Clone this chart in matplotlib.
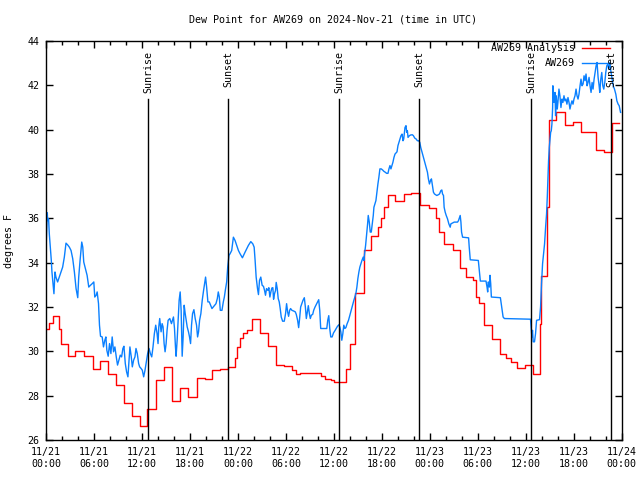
"""
Dew point chart for station AW269: observations vs. analysis, with sun events.
"""

import matplotlib
matplotlib.use("Agg")
import matplotlib.pyplot as plt
from matplotlib.ticker import MultipleLocator

TITLE = "Dew Point for AW269 on 2024-Nov-21 (time in UTC)"
OBS_LABEL = "AW269"
ANALYSIS_LABEL = "AW269 Analysis"
Y_LABEL = "degrees F"

# x axis is hours after 2024-11-21 00:00 UTC
TICK_HOURS = [0, 6, 12, 18, 24, 30, 36, 42, 48, 54, 60, 66, 72]
TICK_LABELS = [
    "11/21\n00:00", "11/21\n06:00", "11/21\n12:00", "11/21\n18:00",
    "11/22\n00:00", "11/22\n06:00", "11/22\n12:00", "11/22\n18:00",
    "11/23\n00:00", "11/23\n06:00", "11/23\n12:00", "11/23\n18:00",
    "11/24\n00:00",
]
Y_TICKS = [26, 28, 30, 32, 34, 36, 38, 40, 42, 44]

SUN_HOURS = [12.77, 22.78, 36.67, 46.68, 60.70, 70.71]
SUN_LABELS = ["Sunrise", "Sunset", "Sunrise", "Sunset", "Sunrise", "Sunset"]

# analysis (hourly-ish steps)
RED_HOURS = [
    0.0, 0.4, 0.8, 1.6, 1.9, 2.7, 3.65, 4.7, 5.8, 6.7,
    7.7, 8.75, 9.7, 10.7, 11.75, 12.6, 13.7, 14.75, 15.75, 16.75,
    17.75, 18.9, 19.85, 20.8, 21.75, 22.8, 23.6, 23.9, 24.2, 24.6,
    25.1, 25.7, 26.8, 27.8, 28.8, 29.7, 30.7, 31.2, 31.8, 34.4,
    34.85, 35.6, 36.0, 37.5, 38.0, 38.7, 39.75, 40.7, 41.5, 41.85,
    42.3, 42.8, 43.7, 44.8, 45.6, 46.75, 47.9, 48.8, 49.2, 49.8,
    50.85, 51.8, 52.5, 53.35, 53.8, 54.2, 54.85, 55.8, 56.85, 57.5,
    58.2, 58.9, 59.9, 60.9, 61.75, 61.95, 62.7, 62.87, 63.85, 64.9,
    65.9, 66.9, 68.85, 69.8, 70.85, 71.7,
]
RED_DEWPT = [
    31.0, 31.3, 31.6, 31.0, 30.35, 29.8, 30.0, 29.8, 29.2, 29.55,
    29.0, 28.5, 27.65, 27.1, 26.65, 27.4, 28.7, 29.3, 27.75, 28.35,
    27.95, 28.8, 28.75, 29.15, 29.2, 29.3, 29.7, 30.2, 30.6, 30.85,
    30.95, 31.45, 30.85, 30.25, 29.4, 29.35, 29.15, 28.97, 29.04, 28.9,
    28.77, 28.7, 28.62, 29.2, 30.35, 32.65, 34.55, 35.2, 35.6, 36.0,
    36.5, 37.05, 36.8, 37.1, 37.15, 36.6, 36.45, 36.0, 35.4, 34.85,
    34.55, 33.75, 33.35, 33.2, 32.45, 32.2, 31.2, 30.55, 29.9, 29.7,
    29.5, 29.27, 29.37, 29.0, 31.25, 33.4, 36.5, 40.45, 40.8, 40.2,
    40.35, 39.9, 39.1, 39.0, 40.3, 40.3,
]

# station observations
BLUE_HOURS = [
    0.0, 0.13, 0.17, 0.29, 0.38, 0.5, 0.63, 0.71, 0.88, 0.96,
    1.09, 1.21, 1.42, 1.63, 1.84, 2.05, 2.26, 2.47, 2.68, 2.89,
    3.1, 3.31, 3.52, 3.73, 3.94, 4.06, 4.23, 4.44, 4.57, 4.69,
    4.9, 5.11, 5.32, 5.53, 5.74, 5.95, 6.07, 6.24, 6.37, 6.54,
    6.66, 6.79, 7.0, 7.16, 7.33, 7.46, 7.58, 7.75, 7.92, 8.09,
    8.25, 8.42, 8.59, 8.76, 8.92, 9.09, 9.26, 9.43, 9.59, 9.72,
    9.89, 10.05, 10.22, 10.35, 10.47, 10.64, 10.77, 10.93, 11.1, 11.23,
    11.39, 11.56, 11.69, 11.86, 12.02, 12.19, 12.36, 12.53, 12.69, 12.86,
    13.03, 13.2, 13.36, 13.53, 13.7, 13.87, 13.99, 14.08, 14.2, 14.37,
    14.5, 14.62, 14.75, 14.87, 15.0, 15.12, 15.25, 15.46, 15.67, 15.79,
    15.92, 16.05, 16.17, 16.25, 16.38, 16.51, 16.63, 16.76, 16.88, 17.01,
    17.13, 17.26, 17.39, 17.51, 17.64, 17.8, 17.93, 18.06, 18.18, 18.31,
    18.48, 18.64, 18.81, 18.94, 19.06, 19.19, 19.35, 19.52, 19.69, 19.82,
    19.94, 20.07, 20.23, 20.4, 20.57, 20.74, 20.9, 21.07, 21.24, 21.41,
    21.53, 21.66, 21.78, 21.99, 22.16, 22.29, 22.41, 22.58, 22.71, 22.87,
    23.0, 23.21, 23.42, 23.63, 23.84, 24.05, 24.26, 24.55, 24.89, 25.3,
    25.6, 25.85, 26.02, 26.14, 26.27, 26.44, 26.56, 26.69, 26.85, 27.02,
    27.19, 27.32, 27.44, 27.57, 27.73, 27.86, 27.99, 28.11, 28.24, 28.36,
    28.45, 28.57, 28.7, 28.78, 28.91, 29.03, 29.16, 29.28, 29.41, 29.58,
    29.79, 29.95, 30.08, 30.21, 30.33, 30.46, 30.58, 30.75, 30.96, 31.17,
    31.29, 31.46, 31.59, 31.71, 31.84, 32.01, 32.13, 32.3, 32.43, 32.55,
    32.68, 32.8, 32.93, 33.05, 33.18, 33.35, 33.47, 33.64, 33.81, 33.98,
    34.1, 34.23, 34.35, 35.11, 35.23, 35.36, 35.48, 35.61, 35.78, 35.95,
    36.11, 36.28, 36.45, 36.62, 36.74, 36.87, 36.99, 37.12, 37.24, 37.37,
    37.5, 37.66, 37.83, 38.0, 38.17, 38.33, 38.5, 38.63, 38.75, 38.88,
    39.0, 39.13, 39.25, 39.38, 39.51, 39.67, 39.76, 39.84, 39.97, 40.09,
    40.22, 40.3, 40.43, 40.55, 40.68, 40.8, 40.93, 41.01, 41.26, 41.38,
    41.51, 41.63, 41.76, 41.93, 42.1, 42.26, 42.43, 42.6, 42.77, 42.89,
    43.02, 43.14, 43.27, 43.39, 43.52, 43.65, 43.77, 43.9, 44.02, 44.15,
    44.27, 44.4, 44.53, 44.65, 44.74, 44.82, 44.9, 45.03, 45.11, 45.2,
    45.28, 45.45, 45.61, 45.82, 45.95, 46.12, 46.29, 46.45, 46.62, 46.75,
    46.87, 47.04, 47.21, 47.37, 47.54, 47.71, 47.83, 47.96, 48.09, 48.21,
    48.34, 48.46, 48.59, 48.76, 48.88, 49.05, 49.22, 49.39, 49.51, 49.6,
    49.72, 49.8, 49.93, 50.06, 50.22, 50.39, 50.56, 50.64, 51.06, 51.48,
    51.6, 51.73, 51.81, 51.9, 51.98, 52.11, 52.86, 52.94, 53.07, 54.08,
    54.2, 54.33, 55.04, 55.17, 55.25, 55.33, 55.46, 55.54, 55.63, 55.71,
    56.84, 57.01, 57.18, 57.34, 60.61, 60.69, 60.78, 60.86, 60.95, 61.11,
    61.24, 61.37, 61.74, 61.87, 61.99, 62.12, 62.25, 62.37, 62.5, 62.62,
    62.71, 62.79, 62.87, 62.96, 63.04, 63.13, 63.21, 63.29, 63.38, 63.41,
    63.54, 63.67, 63.75, 63.83, 63.96, 64.04, 64.17, 64.29, 64.42, 64.55,
    64.67, 64.8, 64.92, 65.05, 65.17, 65.3, 65.43, 65.55, 65.68, 65.8,
    65.93, 66.05, 66.18, 66.31, 66.43, 66.56, 66.68, 66.81, 66.93, 67.06,
    67.19, 67.31, 67.44, 67.56, 67.69, 67.81, 67.94, 68.06, 68.19, 68.32,
    68.44, 68.57, 68.69, 68.82, 68.94, 69.07, 69.2, 69.28, 69.41, 69.53,
    69.66, 69.78, 69.91, 70.03, 70.16, 70.29, 70.41, 70.54, 70.66, 70.79,
    70.96, 71.12, 71.29, 71.42, 71.58, 71.71, 71.88,
]
BLUE_DEWPT = [
    34.9, 36.25, 35.9, 35.98, 35.3, 34.7, 34.1, 33.58, 32.9, 32.6,
    33.58, 33.35, 33.13, 33.35, 33.58, 33.8, 34.25, 34.88, 34.8, 34.7,
    34.55, 34.18, 33.58, 32.83, 32.42, 33.35, 34.1, 34.93, 34.7, 34.03,
    33.73, 33.43, 32.9, 32.98, 33.05, 33.13, 32.45, 32.53, 32.68, 32.15,
    31.18, 30.68, 30.65, 30.2, 30.5, 30.65, 30.05, 29.78, 30.35, 29.9,
    30.65, 29.98, 30.2, 29.75, 29.38, 29.6, 29.83, 29.75, 30.13, 30.23,
    29.45, 29.08, 28.85, 29.53, 30.2, 29.75, 29.3, 29.6, 29.75, 30.13,
    29.9, 29.45, 29.3, 29.23, 29.15, 28.85, 29.15, 29.53, 29.9, 30.13,
    29.9, 29.75, 30.2, 30.8, 31.18, 30.8, 30.35, 31.1, 31.48, 30.88,
    31.25, 31.1, 30.35, 29.98, 30.35, 30.95, 31.4, 31.48, 31.25, 31.4,
    31.55, 31.03, 30.2, 29.78, 30.5, 31.4, 32.3, 32.68, 31.85, 29.78,
    30.65, 32.08, 31.7, 31.4, 31.1, 30.88, 30.65, 30.35, 31.18, 31.7,
    31.88, 31.48, 31.18, 30.65, 30.88, 31.4, 31.7, 32.3, 32.75, 33.05,
    33.35, 32.9, 32.23, 32.23, 32.08, 31.93, 32.0, 32.08, 32.15, 32.38,
    32.68, 32.45, 31.85, 31.85, 32.23, 32.45, 32.75, 33.13, 33.8, 34.33,
    34.4, 34.55, 35.15, 35.0, 34.78, 34.55, 34.4, 34.22, 34.48, 34.78,
    34.95, 34.85, 34.7, 34.1, 33.35, 32.83, 32.56, 33.2, 33.35, 32.98,
    32.93, 32.75, 32.53, 32.83, 32.75, 32.87, 32.45, 32.68, 32.86, 32.87,
    32.35, 32.6, 32.75, 33.11, 32.83, 32.38, 32.23, 31.93, 31.55, 31.36,
    31.36, 31.7, 32.15, 31.78, 31.58, 31.85, 31.93, 31.85, 31.82, 31.78,
    31.67, 31.4, 31.07, 31.48, 32.0, 32.18, 32.3, 32.42, 32.0, 31.48,
    31.78, 32.06, 31.7, 31.48, 31.63, 31.67, 31.85, 32.0, 32.12, 32.23,
    32.33, 31.85, 31.03, 31.03, 31.4, 31.61, 31.03, 30.65, 30.65, 30.83,
    30.92, 31.03, 31.13, 31.2, 31.1, 30.88, 30.5, 30.8, 31.18, 31.03,
    31.07, 31.25, 31.4, 31.63, 31.85, 32.08, 32.3, 32.45, 32.6, 32.9,
    33.28, 33.58, 33.8, 33.95, 34.1, 34.25, 34.1, 34.4, 34.78, 35.23,
    35.75, 36.13, 35.83, 35.38, 35.38, 35.75, 36.13, 36.5, 36.8, 37.18,
    37.55, 37.85, 38.23, 38.23, 38.18, 38.12, 38.08, 38.03, 38.03, 38.23,
    38.38, 38.23, 38.38, 38.53, 38.75, 38.9, 38.95, 39.0, 39.28, 39.43,
    39.58, 39.73, 39.8, 39.5, 39.58, 39.83, 40.1, 40.18, 39.88, 39.95,
    39.65, 39.73, 39.76, 39.77, 39.73, 39.62, 39.58, 39.5, 39.5, 39.43,
    39.2, 38.98, 38.75, 38.53, 38.3, 38.08, 37.78, 37.55, 37.7, 37.78,
    37.48, 37.18, 37.1, 37.06, 37.03, 37.06, 37.1, 37.25, 37.28, 37.1,
    37.03, 36.5, 36.28, 36.13, 35.98, 35.75, 35.6, 35.75, 35.83, 35.83,
    35.9, 36.05, 36.13, 35.83, 35.38, 35.15, 35.12, 34.7, 34.13, 34.1,
    33.65, 33.17, 33.17, 32.9, 32.68, 33.13, 32.9, 33.43, 33.05, 32.45,
    32.42, 32.0, 31.55, 31.48, 31.45, 31.1, 30.65, 30.95, 30.43, 30.43,
    30.8, 31.4, 31.43, 32.0, 33.05, 33.95, 34.4, 34.85, 35.6, 36.2,
    36.95, 37.85, 38.6, 39.2, 39.5, 39.88, 39.95, 40.25, 41.0, 41.98,
    41.23, 41.68, 40.63, 41.53, 40.93, 41.23, 41.83, 41.53, 41.0, 41.38,
    41.23, 41.53, 41.3, 41.38, 41.15, 41.45, 41.23, 40.93, 41.15, 41.3,
    41.15, 41.38, 41.53, 41.83, 41.53, 41.38, 41.6, 41.98, 42.28, 41.98,
    42.06, 42.43, 42.21, 42.51, 41.98, 42.13, 42.36, 41.98, 41.68, 42.13,
    41.83, 42.28, 42.58, 42.88, 43.03, 42.36, 41.98, 41.68, 42.28, 42.58,
    41.98, 41.83, 42.13, 42.58, 42.88, 42.96, 42.73, 43.03, 42.66, 42.36,
    41.98, 41.83, 41.6, 41.3, 41.15, 41.08, 40.78,
]

plt.rcParams['font.family'] = 'DejaVu Sans Mono'
plt.rcParams['font.size'] = 7.2

fig = plt.figure(figsize=(6.4, 4.8), dpi=100)
ax = fig.add_axes([0.0723, 0.0833, 0.8988, 0.8313])

red_line, = ax.plot(RED_HOURS, RED_DEWPT, color='#ff0000', lw=1,
                    drawstyle='steps-post')
blue_line, = ax.plot(BLUE_HOURS, BLUE_DEWPT, color='#0a80ff', lw=1)

# sunrise / sunset markers
for hour, label in zip(SUN_HOURS, SUN_LABELS):
    ax.axvline(hour, ymin=0, ymax=0.855, color='black', lw=1)
    ax.text(hour, 0.975, label, transform=ax.get_xaxis_transform(),
            rotation=90, ha='center', va='top')

ax.set_xlim(0, 72)
ax.set_ylim(26, 44)
ax.set_xticks(TICK_HOURS)
ax.set_xticklabels(TICK_LABELS)
ax.set_yticks(Y_TICKS)
ax.xaxis.set_minor_locator(MultipleLocator(2))
ax.tick_params(direction='in', top=True, right=True, length=5, width=1, pad=5)
ax.tick_params(which='minor', direction='in', top=True, length=3, width=1)
for spine in ax.spines.values():
    spine.set_linewidth(1)

ax.set_ylabel(Y_LABEL)
ax.yaxis.set_label_coords(-0.056, 0.5)
fig.text(0.52, 0.96, TITLE, ha='center', va='center')

# gnuplot-style key: right-aligned text, sample line after it
for ypos, label, line in [(0.982, ANALYSIS_LABEL, red_line),
                          (0.945, OBS_LABEL, blue_line)]:
    ax.text(0.919, ypos, label, transform=ax.transAxes, ha='right', va='center')
    ax.plot([0.931, 0.980], [ypos, ypos], transform=ax.transAxes,
            color=line.get_color(), lw=1)

fig.savefig('out.png', dpi=100)
